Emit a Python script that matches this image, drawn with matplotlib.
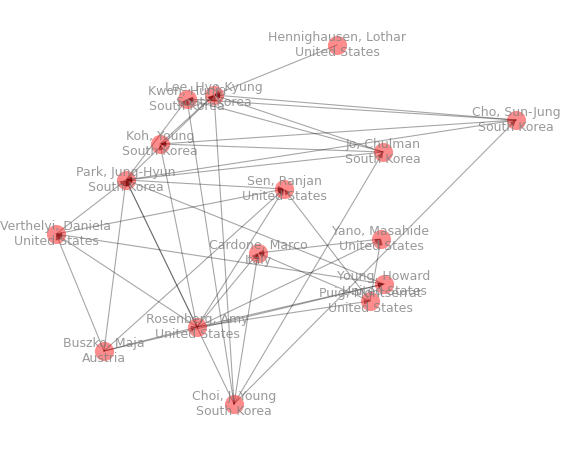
import matplotlib
matplotlib.use('Agg')
import matplotlib.pyplot as plt

# node names, countries and layout positions (layout coordinates)
names = ['Hennighausen, Lothar', 'Kwon, Hunju', 'Lee, Hyo-Kyung', 'Cho, Sun-Jung',
         'Koh, Young', 'Jo, Chulman', 'Park, Jung-Hyun', 'Sen, Ranjan',
         'Verthelyi, Daniela', 'Yano, Masahide', 'Cardone, Marco', 'Young, Howard',
         'Puig, Montserrat', 'Rosenberg, Amy', 'Buszko, Maja', 'Choi, Ji Young']
countries = ['United States', 'South Korea', 'South Korea', 'South Korea',
             'South Korea', 'South Korea', 'South Korea', 'United States',
             'United States', 'United States', 'Italy', 'United States',
             'United States', 'United States', 'Austria', 'South Korea']
pos_x = [337, 187, 214, 516, 160, 383, 126, 284, 56, 381, 258, 384, 370, 197, 104, 234]
pos_y = [45, 99, 95, 120, 144, 152, 180, 189, 234, 239, 253, 284, 301, 327, 351, 404]

edges = [
    (0, 2), (3, 2), (3, 1), (5, 2), (5, 1), (3, 4), (5, 4), (3, 6), (5, 6),
    (6, 1), (6, 2), (4, 2), (6, 7), (8, 6), (14, 6), (13, 6), (15, 6), (11, 6),
    (15, 1), (15, 2), (13, 4), (8, 7), (14, 7), (13, 7), (12, 7), (15, 5),
    (15, 3), (11, 8), (13, 8), (14, 8), (9, 10), (12, 10), (13, 10),
    (13, 9), (12, 9), (13, 11), (14, 11), (13, 12), (15, 10), (14, 13),
]

fig = plt.figure(figsize=(5.72, 4.49), dpi=100)
ax = fig.add_axes([0, 0, 1, 1])
ax.set_xlim(0, 572)
ax.set_ylim(449, 0)
ax.axis('off')

for s, t in edges:
    ax.annotate('', xy=(pos_x[t], pos_y[t]), xytext=(pos_x[s], pos_y[s]),
                arrowprops=dict(arrowstyle='-|>', color='black', alpha=0.35,
                                lw=0.8, shrinkA=0, shrinkB=0, mutation_scale=8))

ax.scatter(pos_x, pos_y, s=190, color='red', alpha=0.45, zorder=3, linewidths=0)

for n, c, x, y in zip(names, countries, pos_x, pos_y):
    ax.text(x, y, f'{n}\n{c}', ha='center', va='center', fontsize=9,
            color='gray', alpha=0.8, zorder=4, linespacing=1.25)

fig.savefig('out.png', dpi=100, facecolor='white')
